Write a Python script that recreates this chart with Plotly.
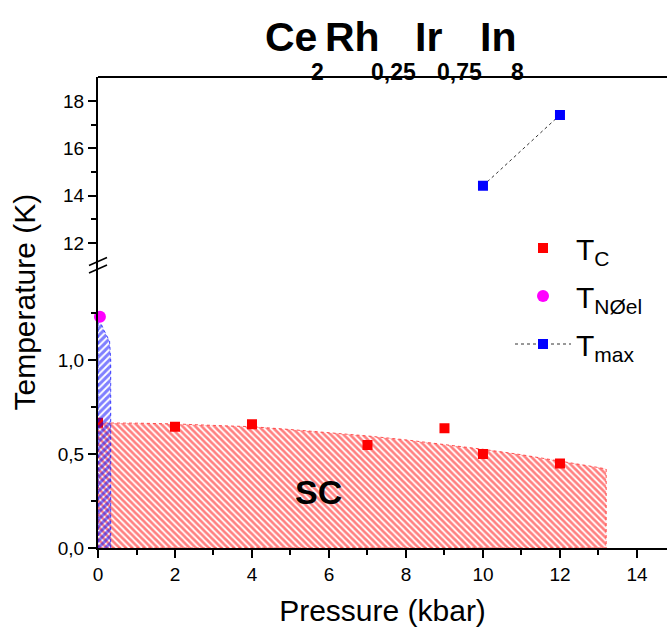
import plotly.graph_objects as go

# Measured points
tc_p = [0, 2, 4, 7, 9, 10, 12]
tc_t = [0.666, 0.645, 0.658, 0.548, 0.637, 0.50, 0.45]

tn_p = [0.05]
tn_t = [1.23]

tmax_p = [10, 12]
tmax_t = [14.42, 17.41]

# Upper edge of the superconducting (SC) region
sc_p = [0, 1, 2, 3, 4, 5, 6, 7, 8, 9, 10, 11, 12, 13, 13.2]
sc_t = [0.665, 0.664, 0.660, 0.652, 0.645, 0.630, 0.615, 0.596, 0.575,
        0.551, 0.525, 0.496, 0.464, 0.428, 0.420]

# Antiferromagnetic region close to ambient pressure
afm_p = [0, 0, 0.15, 0.30, 0.33, 0.33]
afm_t = [0, 1.23, 1.16, 1.10, 1.00, 0]

x_ticks = [0, 2, 4, 6, 8, 10, 12, 14]
low_ticks = [0.0, 0.5, 1.0]
low_tick_text = ["0,0", "0,5", "1,0"]
high_ticks = [12, 14, 16, 18]

FONT = "Liberation Sans, Arial, Helvetica, sans-serif"
W, H = 667, 628
ML, MR, MT, MB = 98, 0, 77, 80
PW, PH = W - ML - MR, H - MT - MB


def px_x(px):
    return (px - ML) / PW


def px_y(py):
    return (H - MB - py) / PH


fig = go.Figure()

# SC region (closed polygon down to T = 0)
fig.add_trace(go.Scatter(
    x=[sc_p[0]] + sc_p + [sc_p[-1], sc_p[0]],
    y=[0] + sc_t + [0, 0],
    mode="lines", fill="toself",
    fillcolor="rgba(255,255,255,0)",
    fillpattern=dict(shape="\\", fgcolor="#ff0000", bgcolor="rgba(255,255,255,0)",
                     size=4.5, solidity=0.6),
    line=dict(color="rgba(255,40,40,0.8)", width=1, dash="dot"),
    showlegend=False, hoverinfo="skip", xaxis="x", yaxis="y",
))

fig.add_trace(go.Scatter(
    x=tc_p, y=tc_t, mode="markers", name="T<sub>C</sub>",
    marker=dict(symbol="square", size=10, color="#ff0000"),
    legendgroup="tc", legendrank=1, xaxis="x", yaxis="y",
))

# AFM region
fig.add_trace(go.Scatter(
    x=afm_p, y=afm_t, mode="lines", fill="toself",
    fillcolor="rgba(255,255,255,0)",
    fillpattern=dict(shape="/", fgcolor="#0000ff", bgcolor="rgba(255,255,255,0)",
                     size=5, solidity=0.6),
    line=dict(color="rgba(20,20,255,0.8)", width=1, dash="dot"),
    showlegend=False, hoverinfo="skip", xaxis="x", yaxis="y",
))

fig.add_trace(go.Scatter(
    x=tn_p, y=tn_t, mode="markers", name="T<sub>NØel</sub>",
    marker=dict(symbol="circle", size=12, color="#ff00ff"),
    cliponaxis=False, legendgroup="tn", legendrank=2, xaxis="x", yaxis="y",
))

fig.add_trace(go.Scatter(
    x=tmax_p, y=tmax_t, mode="lines+markers", name="T<sub>max</sub>",
    marker=dict(symbol="square", size=10, color="#0000ff"),
    line=dict(color="#333333", width=1, dash="dot"),
    legendgroup="tm", legendrank=3, xaxis="x", yaxis="y2",
))

axis_common = dict(
    showline=True, linecolor="black", linewidth=2,
    ticks="outside", ticklen=8, tickwidth=1.5, tickcolor="black",
    tickfont=dict(family=FONT, size=19, color="black"),
    showgrid=False, zeroline=False,
)

fig.update_layout(
    width=W, height=H,
    margin=dict(l=ML, r=MR, t=MT, b=MB),
    paper_bgcolor="white", plot_bgcolor="white",
    separators=",.",
    xaxis=dict(
        domain=[0, 1], range=[0, 14.78], anchor="y",
        tickvals=x_ticks,
        minor=dict(dtick=1, tick0=0, ticks="outside", ticklen=5, tickwidth=1.5,
                   tickcolor="black"),
        title=dict(text="Pressure (kbar)", font=dict(family=FONT, size=30, color="black"),
                   standoff=16),
        **axis_common,
    ),
    yaxis=dict(
        domain=[0, 0.6], range=[0, 1.503], anchor="x",
        tickvals=low_ticks, ticktext=low_tick_text,
        minor=dict(tickvals=[0.25, 0.75, 1.25], ticks="outside", ticklen=5,
                   tickwidth=1.5, tickcolor="black"),
        **axis_common,
    ),
    yaxis2=dict(
        domain=[0.6, 1], range=[11.06, 19.01], anchor="x",
        tickvals=high_ticks,
        minor=dict(tickvals=[13, 15, 17], ticks="outside", ticklen=5,
                   tickwidth=1.5, tickcolor="black"),
        **axis_common,
    ),
    legend=dict(
        x=px_x(510), y=px_y(222), xanchor="left", yanchor="top",
        font=dict(family=FONT, size=30, color="black"),
        itemwidth=56, tracegroupgap=6, bgcolor="rgba(0,0,0,0)",
    ),
    showlegend=True,
)

# Top frame line
fig.add_shape(type="line", xref="paper", yref="paper", x0=0, x1=1, y0=1, y1=1,
              line=dict(color="black", width=2))

# Axis break marks
for yc in (261.5, 269.0):
    fig.add_shape(type="line", xref="paper", yref="paper",
                  x0=px_x(89), y0=px_y(yc + 4), x1=px_x(107), y1=px_y(yc - 4),
                  line=dict(color="black", width=1.5))

# Y-axis title spanning both panels
fig.add_annotation(text="Temperature (K)", xref="paper", yref="paper",
                   x=px_x(24), y=px_y(302.5), textangle=-90, showarrow=False,
                   xanchor="center", yanchor="middle",
                   font=dict(family=FONT, size=30, color="black"))

# SC label
fig.add_annotation(text="<b>SC</b>", x=5.72, y=0.30, xref="x", yref="y",
                   showarrow=False, font=dict(family=FONT, size=34, color="black"))

# Compound formula with subscripts
main_parts = [("Ce", 263), ("Rh", 323), ("Ir", 413), ("In", 478)]
sub_parts = [("2", 309), ("0,25", 369), ("0,75", 435), ("8", 509)]
for txt, px in main_parts:
    fig.add_annotation(text="<b>%s</b>" % txt, xref="paper", yref="paper",
                       x=px_x(px), y=px_y(37.5), xanchor="left", yanchor="middle",
                       showarrow=False,
                       font=dict(family=FONT, size=41, color="black"))
for txt, px in sub_parts:
    fig.add_annotation(text="<b>%s</b>" % txt, xref="paper", yref="paper",
                       x=px_x(px), y=px_y(72.3), xanchor="left", yanchor="middle",
                       showarrow=False,
                       font=dict(family=FONT, size=23, color="black"))

fig.write_html("out.html")
